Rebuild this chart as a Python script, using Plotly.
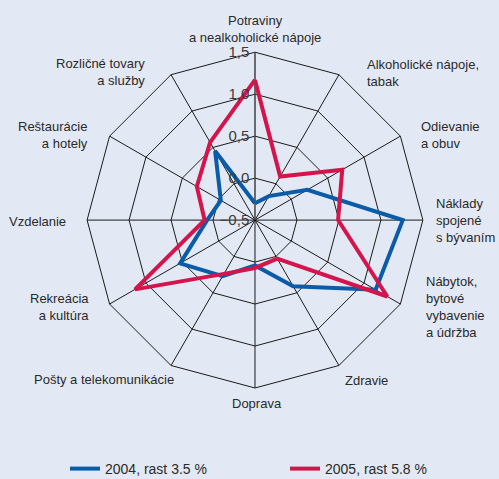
import plotly.graph_objects as go

categories = [
    "Potraviny<br>a nealkoholické nápoje",
    "Alkoholické nápoje,<br>tabak",
    "Odievanie<br>a obuv",
    "Náklady<br>spojené<br>s bývaním",
    "Nábytok,<br>bytové<br>vybavenie<br>a údržba",
    "Zdravie",
    "Doprava",
    "Pošty a telekomunikácie",
    "Rekreácia<br>a kultúra",
    "Vzdelanie",
    "Reštaurácie<br>a hotely",
    "Rozličné tovary<br>a služby",
]
values_2004 = [-0.30, -0.17, 0.22, 1.26, 1.16, 0.41, 0.04, 0.27, 0.53, 0.07, -0.03, 0.45]
values_2005 = [1.17, 0.10, 0.70, 0.49, 1.32, 0.03, 0.07, 0.24, 1.15, 0.10, 0.30, 0.57]
series_names = ["2004, rast 3.5 %", "2005, rast 5.8 %"]
tick_vals = [-0.5, 0.0, 0.5, 1.0, 1.5]

BG = "#E3E9F4"
FONT = "Liberation Sans Narrow, Arial Narrow, Liberation Sans, sans-serif"
W, H = 499, 479

# label placement (pixel anchor x, y, xanchor/align) -- layout only
label_layout = [
    (255, 29.5, "center"),
    (365, 73, "left"),
    (419, 135.5, "left"),
    (434, 220, "left"),
    (424, 307, "left"),
    (343, 380, "left"),
    (257, 403, "center"),
    (176, 379, "right"),
    (91, 307, "right"),
    (68, 221, "right"),
    (90, 135, "right"),
    (147, 72, "right"),
]

fig = go.Figure()
for name, vals, color, leg in [(series_names[0], values_2004, "#0A5CA8", "legend"),
                               (series_names[1], values_2005, "#D4144A", "legend2")]:
    fig.add_trace(go.Scatterpolar(
        r=vals + vals[:1], theta=categories + categories[:1],
        mode="lines", name=name, legend=leg,
        line=dict(color=color, width=4),
    ))

annotations = []
for text, (px, py, anchor) in zip(categories, label_layout):
    annotations.append(dict(
        text=text, x=px / W, y=1 - py / H, xref="paper", yref="paper",
        xanchor=anchor, yanchor="middle", align=anchor, showarrow=False,
        font=dict(family=FONT, size=13, color="#2a2a2a"),
    ))

legend_style = dict(
    orientation="h", xanchor="left", y=1 - 469 / H, yanchor="middle",
    bgcolor="rgba(0,0,0,0)", itemwidth=30,
    font=dict(family=FONT, size=14, color="#2a2a2a"),
)

fig.update_layout(
    width=W, height=H,
    margin=dict(l=0, r=0, t=0, b=0, autoexpand=False),
    paper_bgcolor=BG, plot_bgcolor=BG,
    separators=",.",
    font=dict(family=FONT, size=13, color="#2a2a2a"),
    annotations=annotations,
    polar=dict(
        bgcolor=BG,
        domain=dict(x=[0.174, 0.848], y=[0.19, 0.891]),
        gridshape="linear",
        angularaxis=dict(
            rotation=90, direction="clockwise",
            gridcolor="#1a1a1a", linecolor="#1a1a1a", gridwidth=1, linewidth=1,
            ticks="", showticklabels=False,
        ),
        radialaxis=dict(
            range=[-0.5, 1.5], tickvals=tick_vals, tickformat=".1f",
            angle=90, tickangle=90, side="counterclockwise",
            gridcolor="#1a1a1a", gridwidth=1,
            showline=True, linecolor="#555555", linewidth=1,
            ticks="", tickfont=dict(family=FONT, size=15, color="#3a3a3a"),
        ),
    ),
    showlegend=True,
    legend=dict(x=65 / W, **legend_style),
    legend2=dict(x=285 / W, **legend_style),
)

fig.write_html("out.html")
